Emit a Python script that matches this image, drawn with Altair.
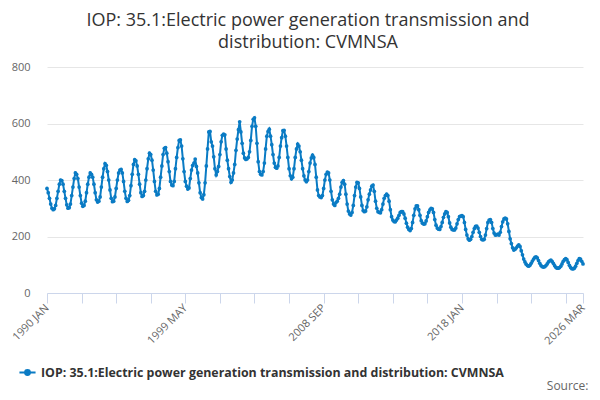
import altair as alt
import pandas as pd

SERIES = "IOP: 35.1:Electric power generation transmission and distribution: CVMNSA"
START_YEAR = 1990
MONTHS = ["JAN", "FEB", "MAR", "APR", "MAY", "JUN", "JUL", "AUG", "SEP", "OCT", "NOV", "DEC"]

# monthly values, Jan..Dec
y1990 = [370, 355, 335, 315, 300, 295, 298, 310, 335, 360, 385, 400]
y1991 = [398, 385, 360, 335, 312, 300, 302, 315, 345, 375, 405, 425]
y1992 = [420, 405, 375, 345, 318, 307, 310, 325, 355, 385, 410, 425]
y1993 = [420, 410, 385, 355, 330, 322, 325, 340, 375, 410, 440, 458]
y1994 = [452, 430, 400, 365, 335, 323, 325, 340, 370, 400, 425, 435]
y1995 = [438, 425, 395, 360, 335, 324, 328, 345, 380, 420, 455, 472]
y1996 = [468, 450, 420, 385, 355, 342, 345, 360, 400, 440, 475, 495]
y1997 = [490, 470, 435, 395, 360, 347, 350, 370, 410, 450, 490, 512]
y1998 = [515, 495, 465, 430, 395, 382, 380, 395, 440, 480, 515, 540]
y1999 = [542, 520, 475, 430, 395, 378, 368, 372, 405, 435, 452, 460]
y2000 = [474, 448, 425, 390, 355, 338, 333, 348, 390, 450, 510, 570]
y2001 = [572, 535, 520, 482, 440, 418, 430, 448, 490, 535, 558, 562]
y2002 = [560, 510, 470, 440, 412, 392, 400, 425, 455, 505, 545, 578]
y2003 = [606, 570, 530, 495, 478, 473, 475, 480, 500, 540, 590, 615]
y2004 = [620, 590, 530, 465, 430, 420, 418, 430, 460, 510, 555, 572]
y2005 = [580, 555, 525, 490, 460, 445, 442, 450, 480, 520, 550, 575]
y2006 = [576, 555, 520, 480, 440, 415, 404, 410, 440, 480, 510, 527]
y2007 = [520, 500, 470, 440, 415, 400, 394, 400, 430, 460, 478, 488]
y2008 = [480, 455, 410, 365, 345, 340, 338, 345, 370, 400, 420, 428]
y2009 = [425, 400, 360, 330, 315, 310, 320, 325, 335, 350, 375, 392]
y2010 = [398, 385, 350, 315, 290, 280, 276, 285, 310, 345, 375, 392]
y2011 = [390, 370, 340, 310, 292, 288, 290, 305, 330, 350, 365, 378]
y2012 = [382, 360, 325, 300, 288, 285, 284, 295, 315, 335, 345, 350]
y2013 = [345, 325, 295, 270, 258, 253, 252, 258, 265, 275, 285, 288]
y2014 = [288, 280, 265, 247, 233, 225, 221, 228, 250, 275, 298, 308]
y2015 = [308, 295, 275, 256, 247, 244, 245, 255, 270, 285, 294, 300]
y2016 = [298, 285, 260, 240, 230, 226, 225, 235, 250, 268, 280, 288]
y2017 = [285, 270, 248, 233, 225, 223, 223, 230, 245, 260, 270, 272]
y2018 = [274, 270, 250, 225, 205, 192, 187, 190, 200, 215, 228, 236]
y2019 = [237, 230, 215, 200, 190, 188, 190, 205, 228, 250, 258, 260]
y2020 = [250, 228, 212, 205, 206, 208, 205, 215, 235, 252, 262, 265]
y2021 = [262, 245, 218, 192, 175, 160, 152, 155, 160, 166, 170, 165]
y2022 = [150, 135, 120, 110, 102, 97, 95, 98, 105, 113, 120, 126]
y2023 = [128, 124, 115, 105, 97, 93, 92, 93, 97, 103, 110, 114]
y2024 = [116, 112, 105, 97, 91, 88, 88, 90, 95, 103, 112, 118]
y2025 = [122, 118, 108, 98, 90, 86, 85, 88, 95, 105, 115, 122]
y2026 = [120, 112, 103]

years = [y1990, y1991, y1992, y1993, y1994, y1995, y1996, y1997, y1998, y1999,
         y2000, y2001, y2002, y2003, y2004, y2005, y2006, y2007, y2008, y2009,
         y2010, y2011, y2012, y2013, y2014, y2015, y2016, y2017, y2018, y2019,
         y2020, y2021, y2022, y2023, y2024, y2025, y2026]

# x-axis ticks (month index) and the labelled ones
tick_idx = [0, 28, 56, 84, 112, 140, 168, 196, 224, 252, 280, 308, 336, 364, 392, 420, 434]
label_idx = [0, 112, 224, 336, 434]
label_txt = ["1990 JAN", "1999 MAY", "2008 SEP", "2018 JAN", "2026 MAR"]

rows = []
i = 0
for yi, vals in enumerate(years):
    for mi, v in enumerate(vals):
        rows.append({"idx": i, "date": f"{START_YEAR + yi} {MONTHS[mi]}", "value": v, "series": SERIES})
        i += 1
df = pd.DataFrame(rows)
last = i - 1

label_expr = " : ".join(
    [f"datum.value == {k} ? '{t}'" for k, t in zip(label_idx, label_txt)]
) + " : ''"

BLUE = "#0a7bc4"
FONT = "Open Sans"

chart = alt.Chart(df).mark_line(
    strokeWidth=2,
    point=alt.OverlayMarkDef(size=14, filled=True, color=BLUE),
).encode(
    x=alt.X(
        "idx:Q",
        scale=alt.Scale(domain=[0, last], nice=False, zero=False),
        axis=alt.Axis(
            values=tick_idx,
            labelExpr=label_expr,
            labelAngle=-45,
            labelAlign="right",
            labelBaseline="middle",
            labelOverlap=False,
            labelPadding=3,
            labelFontSize=11,
            labelColor="#666666",
            labelFont=FONT,
            grid=False,
            domainColor="#ccd6eb",
            tickColor="#ccd6eb",
            tickSize=10,
            title="Source:",
            titleFont=FONT,
            titleFontSize=12,
            titleFontWeight="normal",
            titleColor="#666666",
            titleAnchor="end",
            titleAlign="right",
            titleBaseline="alphabetic",
            titleX=541,
            titleY=96,
        ),
    ),
    y=alt.Y(
        "value:Q",
        scale=alt.Scale(domain=[0, 800], nice=False),
        axis=alt.Axis(
            values=[0, 200, 400, 600, 800],
            title=None,
            domain=False,
            ticks=False,
            labelPadding=17,
            labelFontSize=11,
            labelColor="#666666",
            labelFont=FONT,
            gridColor="#e6e6e6",
        ),
    ),
    color=alt.Color(
        "series:N",
        scale=alt.Scale(range=[BLUE]),
        legend=alt.Legend(
            title=None,
            orient="none",
            legendX=-29,
            legendY=296,
            direction="horizontal",
            symbolType="M-1,0L1,0M-0.3,0a0.3,0.3 0 1,0 0.6,0a0.3,0.3 0 1,0 -0.6,0",
            symbolSize=260,
            symbolStrokeWidth=2,
            symbolFillColor=BLUE,
            symbolStrokeColor=BLUE,
            labelFont=FONT,
            labelFontSize=12.4,
            labelFontWeight="bold",
            labelColor="#333333",
            labelLimit=0,
        ),
    ),
).properties(
    width=536,
    height=226,
    autosize=alt.AutoSizeParams(type="none"),
    padding={"left": 39, "top": 59, "right": 9, "bottom": 99},
    title=alt.TitleParams(
        text=["IOP: 35.1:Electric power generation transmission and", "distribution: CVMNSA"],
        font=FONT,
        fontSize=18,
        fontWeight="normal",
        color="#333333",
        anchor="middle",
        dx=-7,
        lineHeight=22.5,
        offset=9,
    ),
).configure_view(stroke=None)

chart.save("out.html", embed_options={"renderer": "svg", "actions": False})
